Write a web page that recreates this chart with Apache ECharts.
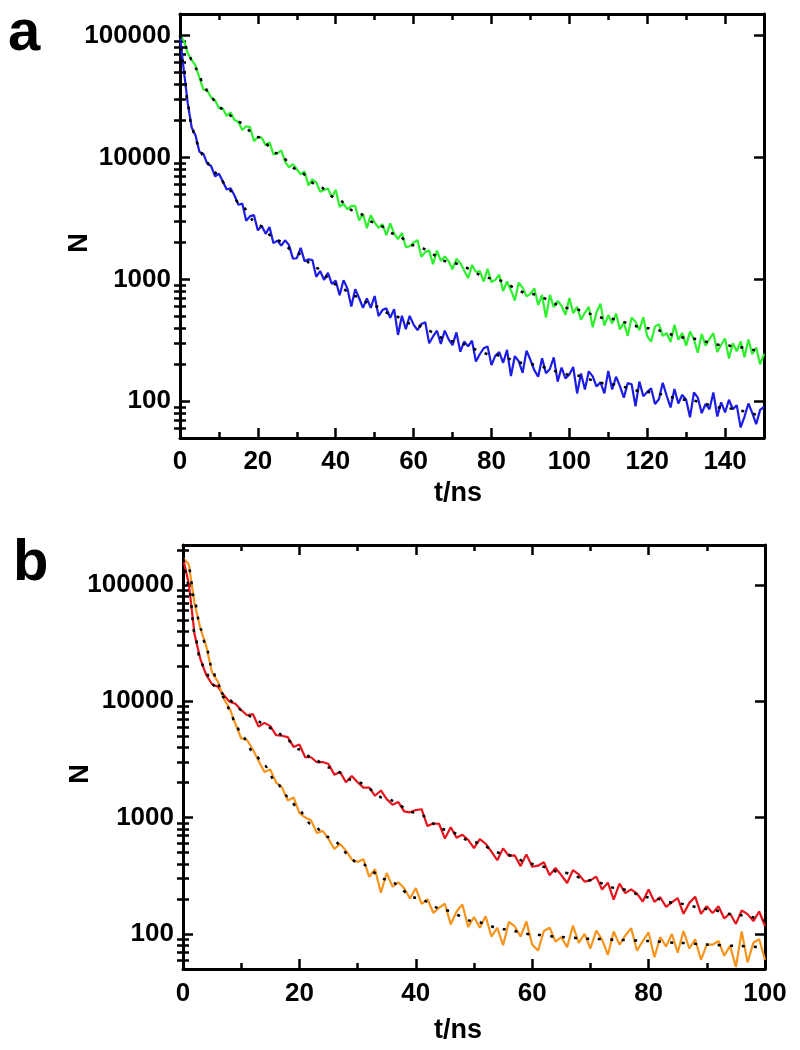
<!DOCTYPE html>
<html><head><meta charset="utf-8">
<script src="https://cdn.jsdelivr.net/npm/echarts@6/dist/echarts.min.js"></script>
<style>html,body{margin:0;padding:0;background:#fff}#c{width:800px;height:1050px}</style>
</head><body><div id="c"></div><script>
// ---------- Panel a data ----------
const tA = [0,1,2,3,4,5,6,7,8,9,10,11,12,13,14,15,16,17,18,19,20,21,22,23,24,25,26,27,28,29,30,31,32,33,34,35,36,37,38,39,40,41,42,43,44,45,46,47,48,49,50,51,52,53,54,55,56,57,58,59,60,61,62,63,64,65,66,67,68,69,70,71,72,73,74,75,76,77,78,79,80,81,82,83,84,85,86,87,88,89,90,91,92,93,94,95,96,97,98,99,100,101,102,103,104,105,106,107,108,109,110,111,112,113,114,115,116,117,118,119,120,121,122,123,124,125,126,127,128,129,130,131,132,133,134,135,136,137,138,139,140,141,142,143,144,145,146,147,148,149,150];
const greenA = [100000,90200,71300,63000,56700,44900,36100,35400,31000,29400,
 25400,25100,21900,23400,20300,19500,16800,18000,17700,13600,
 14700,14500,12600,13300,10600,10800,11400,9200,8300,8800,
 8000,7250,7670,5900,6600,6240,5240,5400,5560,4700,
 5420,3920,4180,3750,3990,4000,3040,3450,2630,3360,
 2920,2650,2840,2300,2880,2370,2140,2400,1840,1870,
 2000,2100,1530,1680,1720,1330,1720,1420,1540,1410,
 1210,1470,1360,1180,1020,1310,1150,1170,960,1220,
 950,990,1090,800,960,815,670,940,856,725,
 760,845,615,745,486,745,592,665,608,511,
 702,528,595,467,532,595,405,538,632,418,
 510,435,524,388,443,344,487,448,383,490,
 342,308,410,429,344,363,307,424,320,362,
 286,373,322,250,357,286,325,362,254,291,
 327,224,299,257,310,230,321,243,276,201,
 245];
const blueA = [100000,50900,27700,17600,15100,11100,10700,8900,8500,7000,
 7350,6350,5460,5590,4870,4090,4180,3020,3300,3360,
 2520,2750,2360,2690,1980,2080,1890,2090,1910,1480,
 1490,1810,1410,1460,1440,1050,1170,990,1130,920,
 975,740,985,840,600,830,703,583,699,584,
 730,499,560,578,484,570,350,503,391,502,
 425,384,430,445,299,340,379,295,380,322,
 289,367,255,309,282,314,212,243,272,282,
 198,237,253,207,264,161,235,213,171,260,
 219,180,159,225,170,184,229,145,189,154,
 166,191,116,169,125,176,160,132,143,116,
 177,125,159,133,107,141,138,91,145,110,
 119,128,95,104,142,111,89,126,96,113,
 103,74,118,107,80,95,86,118,75,98,
 81,103,86,93,61,75,96,80,65,85,
 90];
const fitTA = [0,1,2,3,4,5,6,8,10,12,15,20,25,30,35,40,45,50,55,60,70,80,90,100,110,120,130,140,150];
const greenFitA = [100000,88000,75000,63000,54000,46000,39000,31000,26000,23000,19500,14700,10800,8000,6000,4650,3600,2920,2370,1900,1360,1020,760,580,477,398,332,287,252];
const blueFitA = [100000,55000,27000,18000,14000,11700,10200,8300,7000,5750,4300,2800,2080,1650,1240,910,728,603,500,425,311,242,201,166,139,119,103,88,74];

// ---------- Panel b data ----------
const tB = [0,1,2,3,4,5,6,7,8,9,10,11,12,13,14,15,16,17,18,19,20,21,22,23,24,25,26,27,28,29,30,31,32,33,34,35,36,37,38,39,40,41,42,43,44,45,46,47,48,49,50,51,52,53,54,55,56,57,58,59,60,61,62,63,64,65,66,67,68,69,70,71,72,73,74,75,76,77,78,79,80,81,82,83,84,85,86,87,88,89,90,91,92,93,94,95,96,97,98,99,100];
const redB = [170000,102000,37200,22900,16800,14000,13300,11300,9900,9500,
 8400,7580,7760,6040,6520,6110,5120,5050,4920,4050,
 4250,3300,3300,2990,3000,2890,2340,2460,2010,2280,
 2010,1810,1810,1540,1710,1440,1290,1360,1130,1110,
 1160,1180,845,890,885,660,825,670,712,645,
 547,653,596,510,430,544,468,473,383,483,
 378,386,413,320,369,320,274,353,325,282,
 289,311,241,276,197,271,224,242,222,190,
 241,189,207,171,187,203,149,185,209,149,
 173,151,173,136,150,122,159,148,129,156,
 117];
const orangeB = [169000,150000,68400,42000,29700,17600,14700,10500,8710,6400,
 4780,4640,3850,3070,2460,2590,2000,1820,1400,1490,
 1100,1000,950,735,770,655,537,594,520,437,
 415,439,310,360,226,334,255,278,247,202,
 248,181,199,152,168,182,121,156,179,115,
 140,113,142,95,113,80,127,116,95,128,
 81,72,106,113,86,94,77,118,84,100,
 75,107,90,66,105,81,97,112,72,87,
 103,63,94,78,100,69,106,75,90,60,
 81,81,87,65,79,52,105,57,84,90,
 60];
const fitTB = [0,1,2,3,4,5,6,7,8,9,10,12,14,16,18,20,22,25,30,35,40,45,50,55,60,65,70,75,80,85,90,95,100];
const redFitB = [170000,100000,38000,22000,17500,14000,12500,11500,10300,9300,8400,7250,6300,5500,4600,3850,3300,2700,2010,1440,1100,790,615,490,400,339,289,244,207,183,164,146,131];
const orangeFitB = [165000,140000,72000,42000,29000,19000,14000,10800,8500,6400,5200,3700,2800,2000,1520,1140,880,680,415,293,205,160,128,110,99,94,91,89,87,84,81,79,76];

// ---------- Tick values ----------
const xMajorA = [0,20,40,60,80,100,120,140];
const xMinorA = [10,30,50,70,90,110,130,150];
const xMajorB = [0,20,40,60,80,100];
const xMinorB = [10,30,50,70,90];
const yMajor = [100,1000,10000,100000];
const yMinorA = [60,70,80,90,200,300,400,500,600,700,800,900,2000,3000,4000,5000,6000,7000,8000,9000,20000,30000,40000,50000,60000,70000,80000,90000];
const yMinorB = [60,70,80,90,200,300,400,500,600,700,800,900,2000,3000,4000,5000,6000,7000,8000,9000,20000,30000,40000,50000,60000,70000,80000,90000,200000];

const FONT = '"Liberation Sans", Arial, sans-serif';
const BLACK = '#000';

function pairs(xs, ys){ return xs.map((x,i)=>[x, ys[i]]); }

function xAxes(gi, max, majors, minors, margin){
  const base = {type:'value', gridIndex:gi, min:0, max:max, splitLine:{show:false}};
  const line = {show:true, onZero:false, lineStyle:{color:BLACK, width:3}};
  const tk = (vals, len) => ({show:true, inside:true, length:len, customValues:vals, lineStyle:{color:BLACK, width:2.5}});
  return [
    Object.assign({}, base, {position:'bottom', axisLine:line, axisTick:tk(majors,10),
      axisLabel:{show:true, customValues:majors, margin:margin, color:BLACK, fontSize:26, fontWeight:'bold', fontFamily:FONT}}),
    Object.assign({}, base, {position:'bottom', axisLine:{show:false}, axisTick:tk(minors,6), axisLabel:{show:false}}),
    Object.assign({}, base, {position:'top', axisLine:line, axisTick:tk(majors,10), axisLabel:{show:false}}),
    Object.assign({}, base, {position:'top', axisLine:{show:false}, axisTick:tk(minors,6), axisLabel:{show:false}})
  ];
}
function yAxes(gi, min, max, majors, minors){
  const base = {type:'log', logBase:10, gridIndex:gi, min:min, max:max, splitLine:{show:false}};
  const line = {show:true, onZero:false, lineStyle:{color:BLACK, width:3}};
  const tk = (vals, len) => ({show:true, inside:true, length:len, customValues:vals, lineStyle:{color:BLACK, width:2.5}});
  return [
    Object.assign({}, base, {position:'left', axisLine:line, axisTick:tk(majors,10),
      axisLabel:{show:true, customValues:majors, margin:9, color:BLACK, fontSize:26, fontWeight:'bold', fontFamily:FONT,
        formatter:(v)=>String(Math.round(v))}}),
    Object.assign({}, base, {position:'left', axisLine:{show:false}, axisTick:tk(minors,6), axisLabel:{show:false}}),
    Object.assign({}, base, {position:'right', axisLine:line, axisTick:tk(majors,10), axisLabel:{show:false}}),
    Object.assign({}, base, {position:'right', axisLine:{show:false}, axisTick:tk(minors,6), axisLabel:{show:false}})
  ];
}
function dataLine(xi, yi, d, color){
  return {type:'line', xAxisIndex:xi, yAxisIndex:yi, data:d, showSymbol:false, symbol:'none',
    lineStyle:{color:color, width:2.2}, itemStyle:{color:color}, silent:true, z:2};
}
function fitLine(xi, yi, d){
  return {type:'line', xAxisIndex:xi, yAxisIndex:yi, data:d, showSymbol:false, symbol:'none',
    smooth:0.3, smoothMonotone:'x',
    lineStyle:{color:BLACK, width:2.5, type:[3,9]}, itemStyle:{color:BLACK}, silent:true, z:3};
}

const chart = echarts.init(document.getElementById('c'), null, {renderer:'canvas'});
const option = {
  animation:false,
  backgroundColor:'#fff',
  grid:[
    {left:180, top:14, width:584, height:424, outerBoundsMode:'none', containLabel:false},
    {left:183, top:545, width:582, height:424, outerBoundsMode:'none', containLabel:false}
  ],
  xAxis: xAxes(0, 150, xMajorA, xMinorA, 11).concat(xAxes(1, 100, xMajorB, xMinorB, 12)),
  yAxis: yAxes(0, 50, 150000, yMajor, yMinorA).concat(yAxes(1, 50, 220000, yMajor, yMinorB)),
  series:[
    dataLine(0, 0, pairs(tA, greenA), '#2ef02e'),
    dataLine(0, 0, pairs(tA, blueA), '#1c1ce6'),
    fitLine(0, 0, pairs(fitTA, greenFitA)),
    fitLine(0, 0, pairs(fitTA, blueFitA)),
    dataLine(4, 4, pairs(tB, redB), '#e8141c'),
    dataLine(4, 4, pairs(tB, orangeB), '#f7941d'),
    fitLine(4, 4, pairs(fitTB, redFitB)),
    fitLine(4, 4, pairs(fitTB, orangeFitB))
  ],
  graphic:[
    {type:'text', x:8, y:34, style:{text:'a', font:'bold 58px '+FONT, fill:BLACK, align:'left', verticalAlign:'middle'}},
    {type:'text', x:13, y:564, style:{text:'b', font:'bold 58px '+FONT, fill:BLACK, align:'left', verticalAlign:'middle'}},
    {type:'text', x:80, y:243, rotation:Math.PI/2, style:{text:'N', font:'bold 27px '+FONT, fill:BLACK, align:'center', verticalAlign:'middle'}},
    {type:'text', x:81, y:774, rotation:Math.PI/2, style:{text:'N', font:'bold 27px '+FONT, fill:BLACK, align:'center', verticalAlign:'middle'}},
    {type:'text', x:458, y:494, style:{text:'t/ns', font:'bold 27px '+FONT, fill:BLACK, align:'center', verticalAlign:'middle'}},
    {type:'text', x:458, y:1031, style:{text:'t/ns', font:'bold 27px '+FONT, fill:BLACK, align:'center', verticalAlign:'middle'}}
  ]
};
chart.setOption(option);
</script></body></html>
